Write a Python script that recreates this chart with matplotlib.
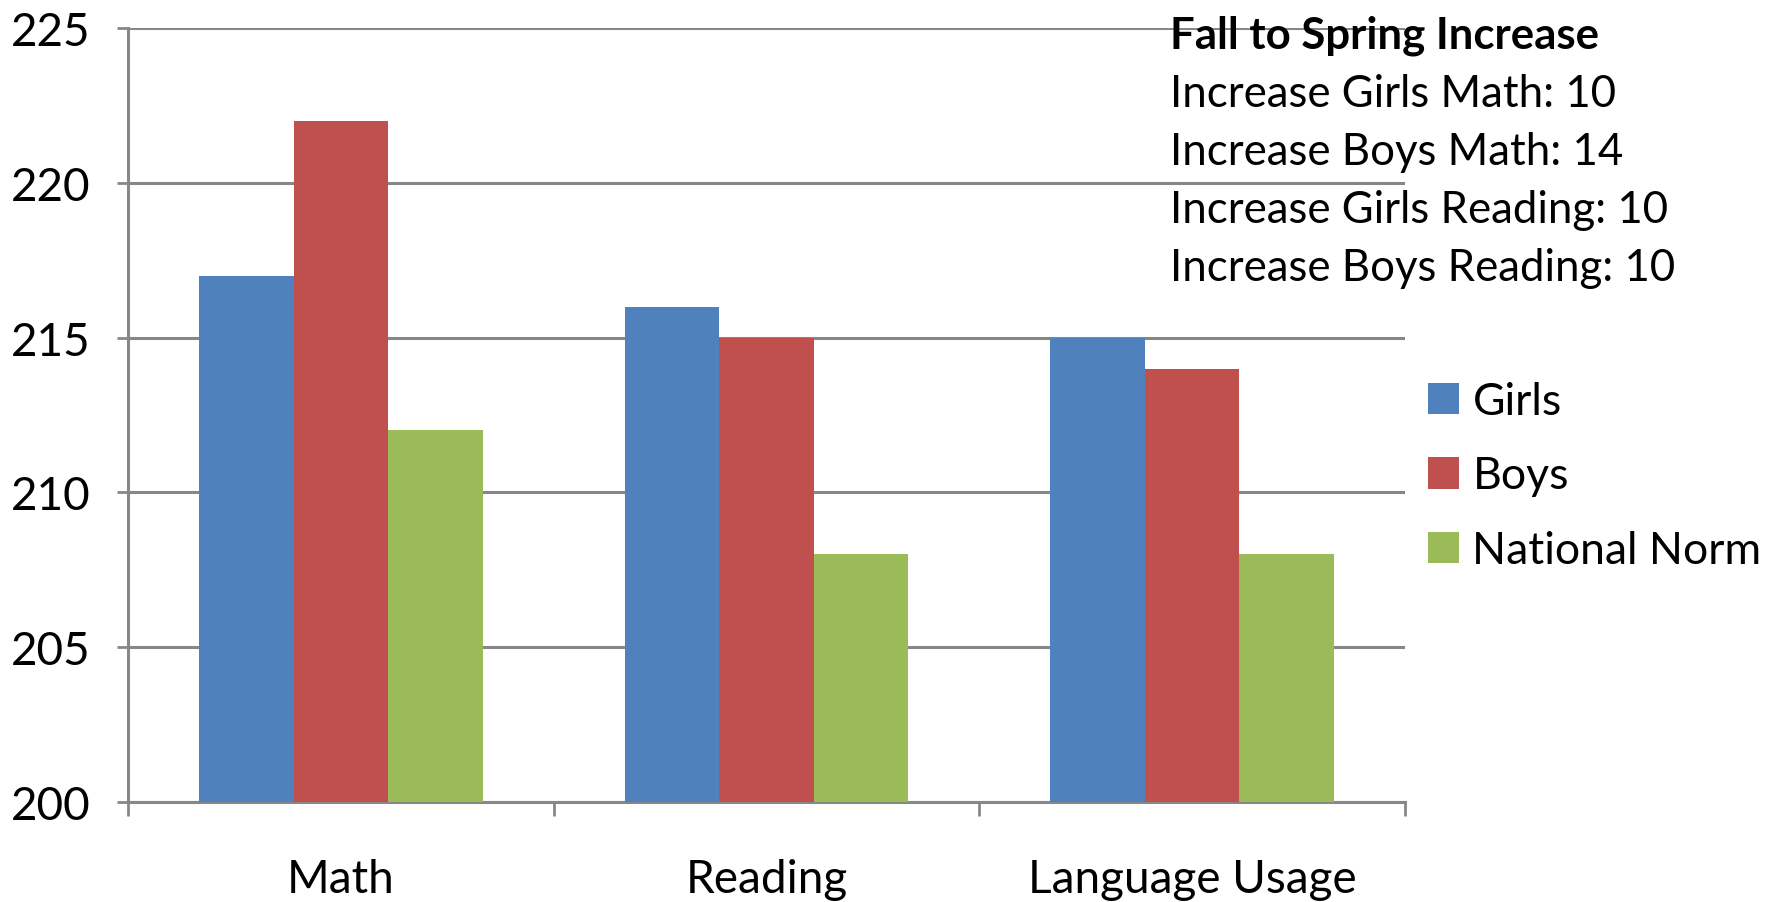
import matplotlib
matplotlib.use("Agg")
import matplotlib.pyplot as plt
import numpy as np

categories = ["Math", "Reading", "Language Usage"]
series_names = ["Girls", "Boys", "National Norm"]
girls = [217, 216, 215]
boys = [222, 215, 214]
national = [212, 208, 208]
yticks = [200, 205, 210, 215, 220, 225]
note_title = "Fall to Spring Increase"
note_lines = ["Increase Girls Math: 10", "Increase Boys Math: 14",
              "Increase Girls Reading: 10", "Increase Boys Reading: 10"]

colors = ["#4F81BD", "#C0504D", "#9BBB59"]
grid_c = "#878787"
FONT = "Lato"
FS_TICK = 33
FS_NOTE = 31.5
FS_LEG = 32

W, H = 1772, 903
fig = plt.figure(figsize=(W / 100, H / 100), dpi=100)
ax = fig.add_axes([128 / W, 1 - 803 / H, (1405 - 128) / W, (803 - 29) / H])

x = np.arange(len(categories))
bw = 1 / 4.5
for i, (vals, name) in enumerate(zip([girls, boys, national], series_names)):
    ax.bar(x + (i - 1) * bw, np.array(vals) - 200, bottom=200, width=bw,
           color=colors[i], label=name, zorder=3)

ax.set_xlim(-0.5, len(categories) - 0.5)
ax.set_ylim(200, 225)
ax.set_yticks(yticks)
ax.set_yticklabels([str(t) for t in yticks], fontsize=FS_TICK, family=FONT)
ax.yaxis.grid(True, color=grid_c, linewidth=2.2, zorder=0)
ax.set_axisbelow(True)

ax.set_xticks(x)
ax.set_xticklabels(categories, fontsize=FS_TICK, family=FONT)
ax.set_xticks(np.arange(len(categories) + 1) - 0.5, minor=True)
ax.tick_params(axis="x", which="major", length=0, pad=40)
ax.tick_params(axis="x", which="minor", length=10, width=2, color=grid_c, direction="out")
ax.tick_params(axis="y", length=8, width=2, color=grid_c, direction="out", pad=19)

for s in ["top", "right"]:
    ax.spines[s].set_visible(False)
for s in ["left", "bottom"]:
    ax.spines[s].set_color(grid_c)
    ax.spines[s].set_linewidth(2.2)

leg = fig.legend(loc="center left", bbox_to_anchor=(1428 / W, 1 - 477 / H),
                 frameon=False, prop={"family": FONT, "size": FS_LEG},
                 handlelength=0.7, handleheight=0.7, handletextpad=0.3,
                 labelspacing=0.75, borderaxespad=0, borderpad=0)

fx = 1170 / W
fig.text(fx, 1 - 49 / H, note_title, fontsize=FS_NOTE, family=FONT, fontweight="bold",
         va="baseline", ha="left")
for k, line in enumerate(note_lines):
    fig.text(fx, 1 - (107 + 58 * k) / H, line, fontsize=FS_NOTE, family=FONT,
             va="baseline", ha="left")

fig.savefig("out.png", dpi=100, facecolor="white")
